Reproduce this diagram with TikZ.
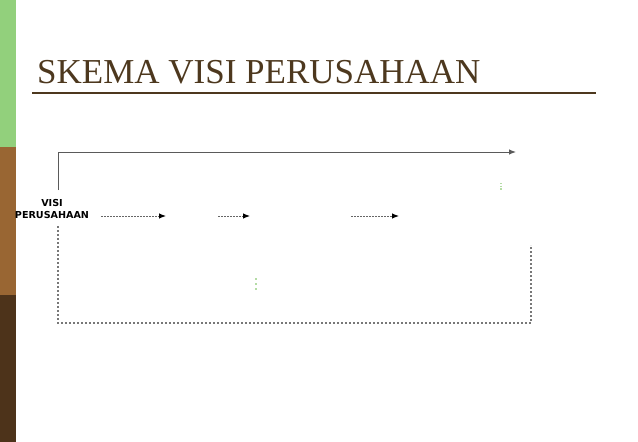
\documentclass[tikz,border=0pt]{standalone}
\usepackage{fontspec}
\setmainfont{Liberation Serif}
\newfontfamily\labelfont{DejaVu Sans}
\usetikzlibrary{arrows.meta}
\definecolor{barGreen}{RGB}{146,208,124}
\definecolor{barBrown}{RGB}{153,102,51}
\definecolor{barDark}{RGB}{77,51,26}
\definecolor{titleBrown}{RGB}{77,56,30}
\definecolor{lineGray}{RGB}{90,90,90}
\definecolor{dotGray}{RGB}{120,120,120}
\definecolor{markGreen}{RGB}{180,220,165}

\begin{document}
\begin{tikzpicture}[x=1pt,y=-1pt,
  flow/.style={line width=1pt, lineGray, -{Latex[length=7pt,width=5.5pt]}},
  stepflow/.style={line width=1pt, black!60, dash pattern=on 2pt off 1pt, -{Latex[length=7pt,width=5.5pt,black]}},
  backflow/.style={line width=1.1pt, dotGray, dash pattern=on 2pt off 2pt},
  markdots/.style={markGreen, line width=1.5pt, dash pattern=on 1.5pt off 3.5pt}]

\useasboundingbox (0,0) rectangle (638,442);

%side bar
\fill[barGreen] (0,0)   rectangle (16,147);
\fill[barBrown] (0,147) rectangle (16,295);
\fill[barDark]  (0,295) rectangle (16,442);

%title
\node[anchor=base west, inner sep=0pt, text=titleBrown, font=\fontsize{35}{35}\selectfont] (title) at (37,83) {SKEMA VISI PERUSAHAAN};
\draw[titleBrown, line width=1.2pt] (32,93) -- (596,93);

%labels
\node[align=center, inner sep=1pt, font=\labelfont\bfseries\fontsize{9.6}{12.5}\selectfont] (visi) at (52,209) {VISI\\PERUSAHAAN};

\coordinate (top1) at (58,190);
\coordinate (top2) at (58,152);
\coordinate (top3) at (516,152);
%
\coordinate (a1) at (101,216);
\coordinate (a2) at (166,216);
\coordinate (b1) at (218,216);
\coordinate (b2) at (250,216);
\coordinate (c1) at (351,216);
\coordinate (c2) at (399,216);
%
\coordinate (bot1) at (58,226);
\coordinate (bot2) at (58,323);
\coordinate (bot3) at (531,323);
\coordinate (bot4) at (531,245);

%connectors
\draw[flow]     (top1) -- (top2) -- (top3);
\draw[stepflow] (a1) -- (a2);
\draw[stepflow] (b1) -- (b2);
\draw[stepflow] (c1) -- (c2);
\draw[backflow] (bot1) -- (bot2) -- (bot3) -- (bot4);

%marks
\draw[markdots] (256,278) -- (256,291);
\draw[markdots, line width=1.2pt, dash pattern=on 1.2pt off 1.5pt] (501,183) -- (501,191);

\end{tikzpicture}
\end{document}
